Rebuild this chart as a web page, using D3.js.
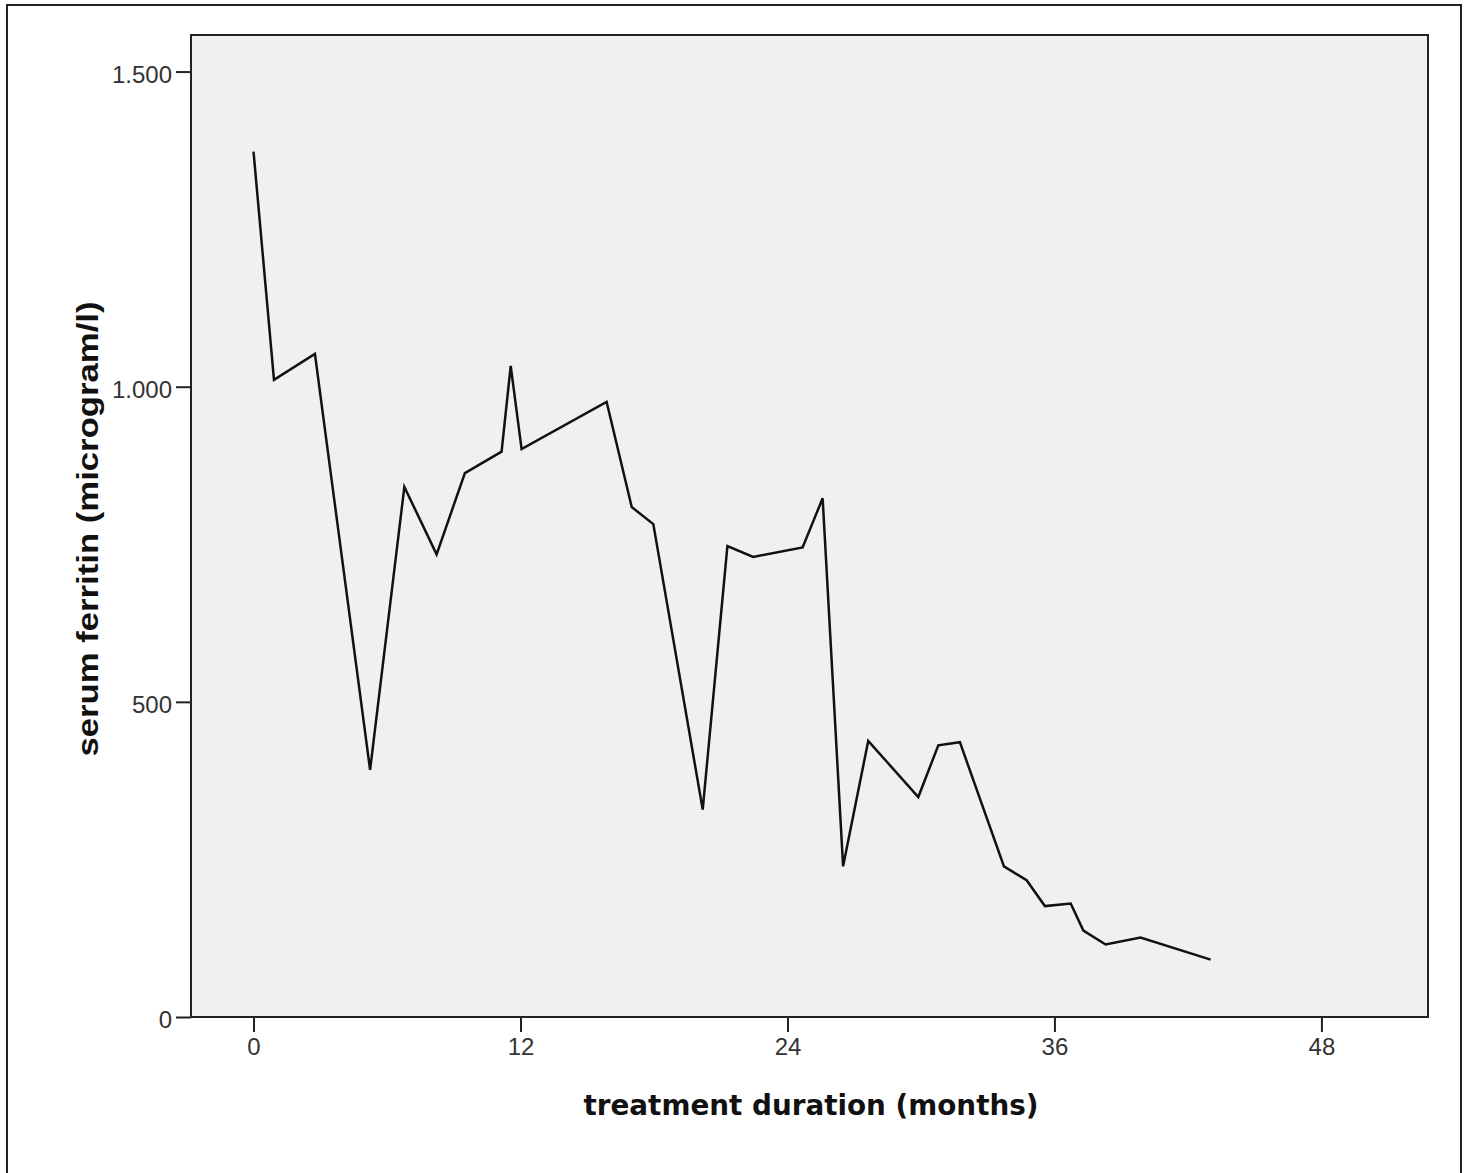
<!DOCTYPE html>
<html lang="en">
<head>
  <meta charset="UTF-8">
  <title>serum ferritin</title>
  <script src="https://d3js.org/d3.v7.min.js"></script>
  <style>
    body { margin: 0; background: #fff; }
  </style>
</head>
<body>
  <div id="chart"></div>

  <script>
    // values
    const months = [0, 0.92, 2.76, 5.24, 6.78, 8.23, 9.5, 11.15, 11.56, 12.05, 15.87, 17.0, 17.97,
                    20.19, 21.3, 22.46, 24.68, 25.58, 26.5, 27.63, 29.88, 30.78, 31.75, 33.73,
                    34.75, 35.57, 36.73, 37.3, 38.3, 39.87, 43.02];
    const ferritin = [1373, 1011, 1052, 392, 841, 734, 863, 897, 1033, 901, 976, 809, 782,
                      329, 747, 730, 745, 823, 239, 438, 349, 431, 436, 239,
                      217, 176, 180, 137, 115, 126, 91];
    const xTicks = [0, 12, 24, 36, 48];
    const yTicks = [0, 500, 1000, 1500];

    const W = 1465, H = 1173;
    const plot = {left: 191, top: 35, right: 1428, bottom: 1017};

    const svg = d3.select("#chart")
                  .append("svg")
                  .attr("width", W)
                  .attr("height", H);

    // outer frame (bottom edge runs off the picture)
    svg.append("rect")
       .attr("x", 7).attr("y", 5)
       .attr("width", 1454).attr("height", 1200)
       .attr("fill", "none")
       .attr("stroke", "#222")
       .attr("stroke-width", 2);

    const x = d3.scaleLinear()
                .domain([-2.81, 52.79])
                .range([plot.left, plot.right]);

    const y = d3.scaleLinear()
                .domain([0, 1558])
                .range([plot.bottom, plot.top]);

    svg.append("rect")
       .attr("x", plot.left).attr("y", plot.top)
       .attr("width", plot.right - plot.left)
       .attr("height", plot.bottom - plot.top)
       .attr("fill", "#f0f0f0");

    const fmt = d => d === 0 ? "0" : d3.format(",")(d).replace(",", ".");

    const yAxis = svg.append("g")
       .attr("transform", `translate(${plot.left},0)`)
       .call(d3.axisLeft(y).tickValues(yTicks).tickFormat(fmt).tickSize(15).tickPadding(4).tickSizeOuter(0));

    const xAxis = svg.append("g")
       .attr("transform", `translate(0,${plot.bottom})`)
       .call(d3.axisBottom(x).tickValues(xTicks).tickSize(15).tickPadding(6).tickSizeOuter(0));

    [xAxis, yAxis].forEach(g => {
      g.select(".domain").remove();
      g.selectAll(".tick line").attr("stroke", "#222").attr("stroke-width", 2);
      g.selectAll(".tick text")
       .attr("fill", "#333")
       .style("font-family", "'Liberation Sans', Arial, sans-serif")
       .style("font-size", "24px");
    });
    yAxis.selectAll(".tick text").attr("dy", "0.45em");

    // plot frame
    svg.append("rect")
       .attr("x", plot.left).attr("y", plot.top)
       .attr("width", plot.right - plot.left)
       .attr("height", plot.bottom - plot.top)
       .attr("fill", "none")
       .attr("stroke", "#222")
       .attr("stroke-width", 2);

    const line = d3.line()
                   .x((d, i) => x(months[i]))
                   .y(d => y(d));

    svg.append("path")
       .datum(ferritin)
       .attr("d", line)
       .attr("fill", "none")
       .attr("stroke", "#111")
       .attr("stroke-width", 2.5)
       .attr("stroke-linejoin", "miter");

    svg.append("text")
       .attr("x", 811)
       .attr("y", 1115)
       .attr("text-anchor", "middle")
       .attr("textLength", 455)
       .attr("lengthAdjust", "spacingAndGlyphs")
       .style("font-family", "'DejaVu Sans', Verdana, sans-serif")
       .style("font-weight", "bold")
       .style("font-size", "28px")
       .attr("fill", "#111")
       .text("treatment duration (months)");

    svg.append("text")
       .attr("transform", "translate(98,529) rotate(-90)")
       .attr("text-anchor", "middle")
       .attr("textLength", 455)
       .attr("lengthAdjust", "spacingAndGlyphs")
       .style("font-family", "'Liberation Sans', Arial, sans-serif")
       .style("font-weight", "bold")
       .style("font-size", "30px")
       .attr("fill", "#111")
       .text("serum ferritin (microgram/l)");
  </script>
</body>
</html>
